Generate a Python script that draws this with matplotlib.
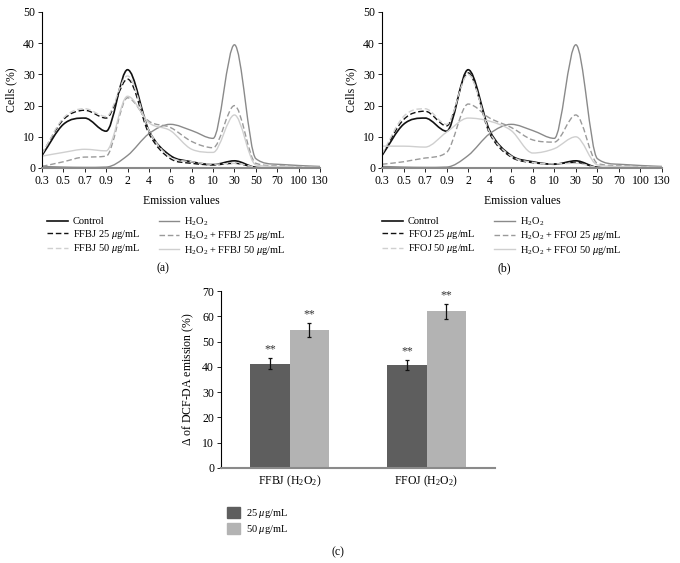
import numpy as np
import matplotlib
matplotlib.use("Agg")
from matplotlib import pyplot as plt
from matplotlib.path import Path
from matplotlib.patches import PathPatch, Patch
from matplotlib.lines import Line2D

plt.rcParams['font.family'] = ['Liberation Serif', 'DejaVu Serif']
plt.rcParams['mathtext.fontset'] = 'custom'
plt.rcParams['mathtext.rm'] = 'Liberation Serif'
plt.rcParams['mathtext.it'] = 'Liberation Serif:italic'

# 横轴类别（等距）
emission = ["0.3", "0.5", "0.7", "0.9", "2", "4", "6", "8", "10", "30", "50", "70", "100", "130"]

# (a) FFBJ
control_a = [4.0, 14.0, 16.0, 11.8, 31.5, 12.0, 4.0, 2.0, 1.1, 2.3, 0.2, 0.0, 0.0, 0.0]
ffbj25 = [4.5, 15.5, 18.5, 16.0, 28.5, 11.0, 3.0, 1.5, 1.0, 1.5, 0.2, 0.0, 0.0, 0.0]
ffbj50 = [4.5, 16.0, 19.0, 16.5, 29.5, 12.0, 3.5, 2.0, 1.2, 1.5, 0.3, 0.0, 0.0, 0.0]
h2o2_a = [0.5, 0.3, 0.2, 0.3, 4.0, 11.0, 14.0, 12.0, 9.5, 39.5, 3.0, 1.2, 0.8, 0.5]
h2o2_ffbj25 = [0.5, 2.0, 3.5, 3.8, 22.5, 15.0, 13.0, 8.5, 6.5, 20.0, 1.5, 0.7, 0.5, 0.3]
h2o2_ffbj50 = [3.8, 5.0, 6.0, 5.5, 23.0, 14.5, 12.0, 6.0, 5.0, 17.0, 1.0, 0.5, 0.3, 0.2]

# (b) FFOJ
control_b = [4.0, 14.0, 16.0, 11.8, 31.5, 12.0, 4.0, 2.0, 1.2, 2.3, 0.2, 0.0, 0.0, 0.0]
ffoj25 = [4.2, 15.5, 18.2, 13.5, 30.5, 11.0, 3.5, 1.7, 1.3, 1.8, 0.2, 0.0, 0.0, 0.0]
ffoj50 = [4.5, 16.5, 19.0, 14.0, 30.0, 11.5, 3.8, 1.8, 1.3, 1.5, 0.2, 0.0, 0.0, 0.0]
h2o2_b = [0.5, 0.3, 0.2, 0.3, 4.0, 11.0, 14.0, 12.0, 9.5, 39.5, 3.0, 1.2, 0.8, 0.5]
h2o2_ffoj25 = [1.2, 2.0, 3.2, 5.0, 20.5, 16.0, 13.0, 9.0, 8.3, 17.0, 1.5, 0.7, 0.5, 0.3]
h2o2_ffoj50 = [7.0, 7.0, 6.7, 11.5, 16.0, 15.0, 12.0, 4.8, 6.2, 10.0, 1.0, 0.5, 0.3, 0.2]

# (c) 柱状图
groups = ["FFBJ (H$_2$O$_2$)", "FFOJ (H$_2$O$_2$)"]
dose25 = [41.3, 40.8]
dose25_err = [2.2, 2.0]
dose50 = [54.6, 62.0]
dose50_err = [2.7, 3.0]

W, H = 680, 563
fig = plt.figure(figsize=(W / 100, H / 100), dpi=100)


def px(l, t, r, b):
    return [l / W, 1 - b / H, (r - l) / W, (b - t) / H]


def smooth_path(ys):
    # 平滑曲线：中心差分切线 + 单调限制（避免过冲）
    y = np.asarray(ys, float)
    n = len(y)
    d = np.diff(y)
    m = np.zeros(n)
    m[0], m[-1] = d[0], d[-1]
    for k in range(1, n - 1):
        if d[k - 1] * d[k] > 0:
            m[k] = (d[k - 1] + d[k]) / 2
    for k in range(n - 1):
        if d[k] == 0:
            m[k] = m[k + 1] = 0
            continue
        a, b = m[k] / d[k], m[k + 1] / d[k]
        s = a * a + b * b
        if s > 9:
            t = 3 / np.sqrt(s)
            m[k], m[k + 1] = t * a * d[k], t * b * d[k]
    verts = [(0, y[0])]
    codes = [Path.MOVETO]
    for i in range(n - 1):
        verts += [(i + 1 / 3, y[i] + m[i] / 3), (i + 2 / 3, y[i + 1] - m[i + 1] / 3), (i + 1, y[i + 1])]
        codes += [Path.CURVE4] * 3
    return Path(verts, codes)


styles = [
    ("#111111", "-", 1.2),
    ("#111111", (0, (4, 2)), 1.0),
    ("#d0d0d0", (0, (4, 2)), 1.0),
    ("#8a8a8a", "-", 1.0),
    ("#9a9a9a", (0, (4, 2)), 1.0),
    ("#cfcfcf", "-", 1.0),
]


def line_panel(rect, series, labels, leg_xy, caption, cap_xy):
    ax = fig.add_axes(rect)
    for ys, (c, ls, lw) in zip(series, styles):
        ax.add_patch(PathPatch(smooth_path(ys), fill=False, ec=c, ls=ls, lw=lw))
    ax.set_xlim(0, len(emission) - 1)
    ax.set_ylim(0, 50)
    ax.set_xticks(range(len(emission)))
    ax.set_xticklabels(emission)
    ax.set_yticks(range(0, 51, 10))
    ax.tick_params(labelsize=8.5, length=3, width=0.6, pad=2)
    ax.spines['top'].set_visible(False)
    ax.spines['right'].set_visible(False)
    ax.spines['bottom'].set_color('#8a8a8a')
    ax.spines['bottom'].set_linewidth(1.5)
    ax.spines['left'].set_linewidth(0.8)
    ax.set_ylabel("Cells (%)", fontsize=8.5, labelpad=4)
    ax.set_xlabel("Emission values", fontsize=8.5, labelpad=6)
    handles = [Line2D([], [], color=c, ls=ls, lw=lw) for c, ls, lw in styles]
    fig.legend(handles, labels, ncol=2,
               loc='upper left', bbox_to_anchor=(leg_xy[0] / W, 1 - leg_xy[1] / H),
               frameon=False, fontsize=7.5, borderpad=0, handlelength=2.0,
               handletextpad=0.45, labelspacing=0.15, columnspacing=1.8)
    fig.text(cap_xy[0] / W, 1 - cap_xy[1] / H, caption, fontsize=8.5, ha='center', va='center')
    return ax


labels_a = ["Control", "FFBJ 25 $\\mu$g/mL", "FFBJ 50 $\\mu$g/mL",
            "H$_2$O$_2$", "H$_2$O$_2$ + FFBJ 25 $\\mu$g/mL", "H$_2$O$_2$ + FFBJ 50 $\\mu$g/mL"]
labels_b = ["Control", "FFOJ 25 $\\mu$g/mL", "FFOJ 50 $\\mu$g/mL",
            "H$_2$O$_2$", "H$_2$O$_2$ + FFOJ 25 $\\mu$g/mL", "H$_2$O$_2$ + FFOJ 50 $\\mu$g/mL"]

line_panel(px(42, 12, 320, 168),
           [control_a, ffbj25, ffbj50, h2o2_a, h2o2_ffbj25, h2o2_ffbj50],
           labels_a, (42, 210), "(a)", (163, 268))
line_panel(px(382, 12, 662, 168),
           [control_b, ffoj25, ffoj50, h2o2_b, h2o2_ffoj25, h2o2_ffoj50],
           labels_b, (377, 210), "(b)", (504, 268))

# (c)
axc = fig.add_axes(px(221, 291, 495, 468))
x = np.arange(len(groups))
w = 0.285
axc.bar(x - w / 2, dose25, w, color="#5e5e5e", yerr=dose25_err, capsize=1.5,
        error_kw=dict(elinewidth=0.9, capthick=0.9, ecolor='#111111'))
axc.bar(x + w / 2, dose50, w, color="#b3b3b3", yerr=dose50_err, capsize=1.5,
        error_kw=dict(elinewidth=0.9, capthick=0.9, ecolor='#111111'))
for xi, v, e in zip(x - w / 2, dose25, dose25_err):
    axc.text(xi, v + e + 1.0, "**", ha='center', va='bottom', fontsize=8.5, color='#333333')
for xi, v, e in zip(x + w / 2, dose50, dose50_err):
    axc.text(xi, v + e + 1.0, "**", ha='center', va='bottom', fontsize=8.5, color='#333333')
axc.set_xlim(-0.5, 1.5)
axc.set_ylim(0, 70)
axc.set_yticks(range(0, 71, 10))
axc.set_xticks(x)
axc.set_xticklabels(groups)
axc.tick_params(axis='x', length=0, pad=4, labelsize=8.5)
axc.tick_params(axis='y', length=3, width=0.6, labelsize=8.5, pad=2)
axc.spines['top'].set_visible(False)
axc.spines['right'].set_visible(False)
axc.spines['bottom'].set_color('#8a8a8a')
axc.spines['bottom'].set_linewidth(1.5)
axc.spines['left'].set_linewidth(0.8)
axc.set_ylabel("$\\Delta$ of DCF-DA emission (%)", fontsize=8.5, labelpad=4)
fig.legend(handles=[Patch(color="#5e5e5e"), Patch(color="#b3b3b3")],
           labels=["25 $\\mu$g/mL", "50 $\\mu$g/mL"],
           loc='upper left', bbox_to_anchor=(222 / W, 1 - 502 / H), frameon=False,
           fontsize=7.5, borderpad=0, handlelength=1.2, handleheight=1.2,
           handletextpad=0.6, labelspacing=0.3)
fig.text(338 / W, 1 - 552 / H, "(c)", fontsize=8.5, ha='center', va='center')

fig.savefig("out.png", dpi=100)
